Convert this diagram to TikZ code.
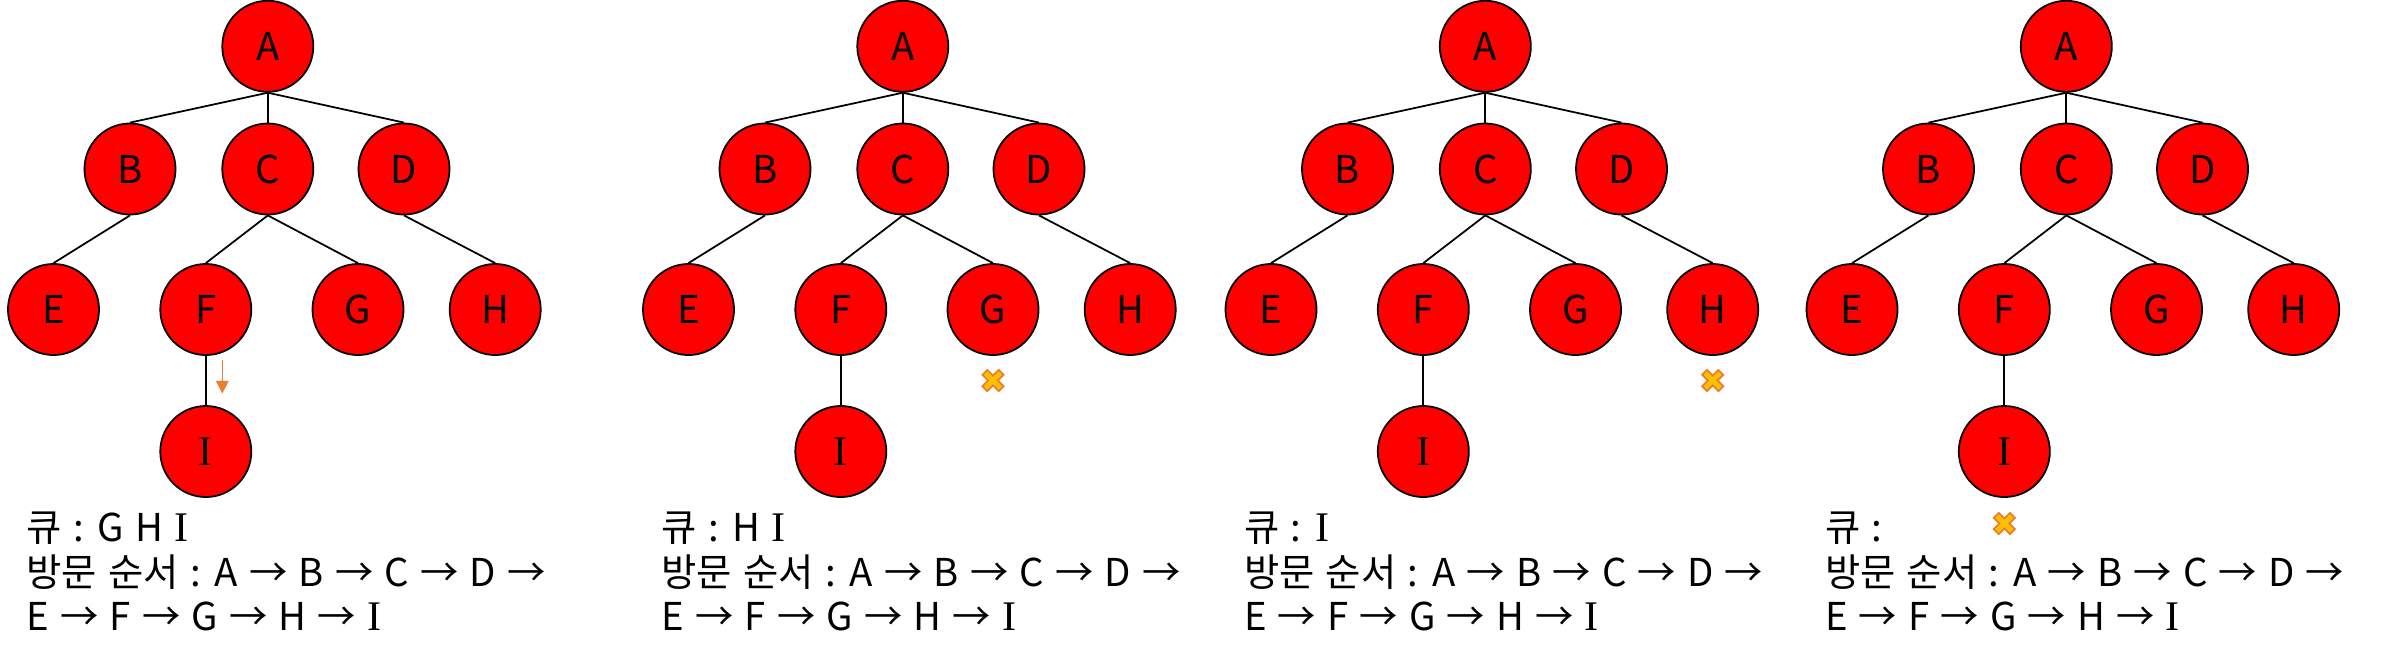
\documentclass[tikz,border=0pt]{standalone}
\usepackage{fontspec}
\setmainfont{Noto Sans CJK KR}[WordSpace=1.3]
\newfontfamily\barfont{Liberation Serif}[Scale=1.1]
\usetikzlibrary{arrows.meta}

\definecolor{markorange}{RGB}{237,125,49}
\definecolor{markgold}{RGB}{255,192,0}

% letter I with bars, as in the picture
\newcommand{\barI}{{\barfont I}}

\begin{document}
\begin{tikzpicture}[
    x=0.01cm, y=-0.01cm,
    font=\fontsize{10.9}{12.5}\selectfont,
    % Styles
    tree_node/.style={circle, fill=red, draw=black, line width=0.5pt, minimum size=0.91cm, inner sep=0pt},
    tree_edge/.style={black, line width=0.5pt},
    info_text/.style={anchor=base west, inner sep=0pt},
    next_arrow/.style={-{Triangle[length=3.6pt, width=3.6pt]}, draw=markorange, line width=0.35pt},
    done_mark/.pic={
        \filldraw[fill=markgold, draw=markorange, line width=0.5pt, rotate=45]
            (-3.5,11.5) -- (3.5,11.5) -- (3.5,3.5) -- (11.5,3.5) -- (11.5,-3.5) -- (3.5,-3.5)
            -- (3.5,-11.5) -- (-3.5,-11.5) -- (-3.5,-3.5) -- (-11.5,-3.5) -- (-11.5,3.5) -- (-3.5,3.5) -- cycle;
    }
]

    \useasboundingbox (0,0) rectangle (2389,663);

    % ==========================================
    % 1. FOUR BFS SNAPSHOTS (tree + queue + order)
    % ==========================================
    \foreach \p/\dx/\q in {1/0/{G H \barI}, 2/635/{H \barI}, 3/1217.5/{\barI}, 4/1798.5/{}} {
        \begin{scope}[shift={(\dx,0)}]
            % Nodes
            \node[tree_node] (A\p) at (267.8, 46.3) {A};
            \node[tree_node] (B\p) at (130, 169) {B};
            \node[tree_node] (C\p) at (267.8, 169) {C};
            \node[tree_node] (D\p) at (404, 169) {D};
            \node[tree_node] (E\p) at (53.5, 309.5) {E};
            \node[tree_node] (F\p) at (205.8, 309.5) {F};
            \node[tree_node] (G\p) at (358, 309.5) {G};
            \node[tree_node] (H\p) at (495.2, 309.5) {H};
            \node[tree_node] (I\p) at (205.8, 451.5) {\barI};

            % Edges
            \foreach \u/\v in {A/B, A/C, A/D, B/E, C/F, C/G, D/H, F/I} {
                \draw[tree_edge] (\u\p.south) -- (\v\p.north);
            }

            % Queue and visiting order
            \node[info_text] (queue\p) at (26, 541.7) {큐 : \q};
            \node[info_text] (order\p) at (26, 586) {방문 순서 : A → B → C → D →};
            \node[info_text] (rest\p) at (26, 630) {E → F → G → H → \barI};
        \end{scope}
    }

    % ==========================================
    % 2. MARKERS
    % ==========================================
    % Next step F -> I
    \coordinate (arr_start) at ([shift={(16.5,50.5)}]F1.center);
    \coordinate (arr_end) at ([shift={(16.5,84)}]F1.center);
    \draw[next_arrow] (arr_start) -- (arr_end);

    % Dequeued nodes
    \pic at ([shift={(0,71)}]G2.center) {done_mark};
    \pic at ([shift={(0,71)}]H3.center) {done_mark};
    \pic at ([shift={(0,72)}]I4.center) {done_mark};

\end{tikzpicture}
\end{document}
